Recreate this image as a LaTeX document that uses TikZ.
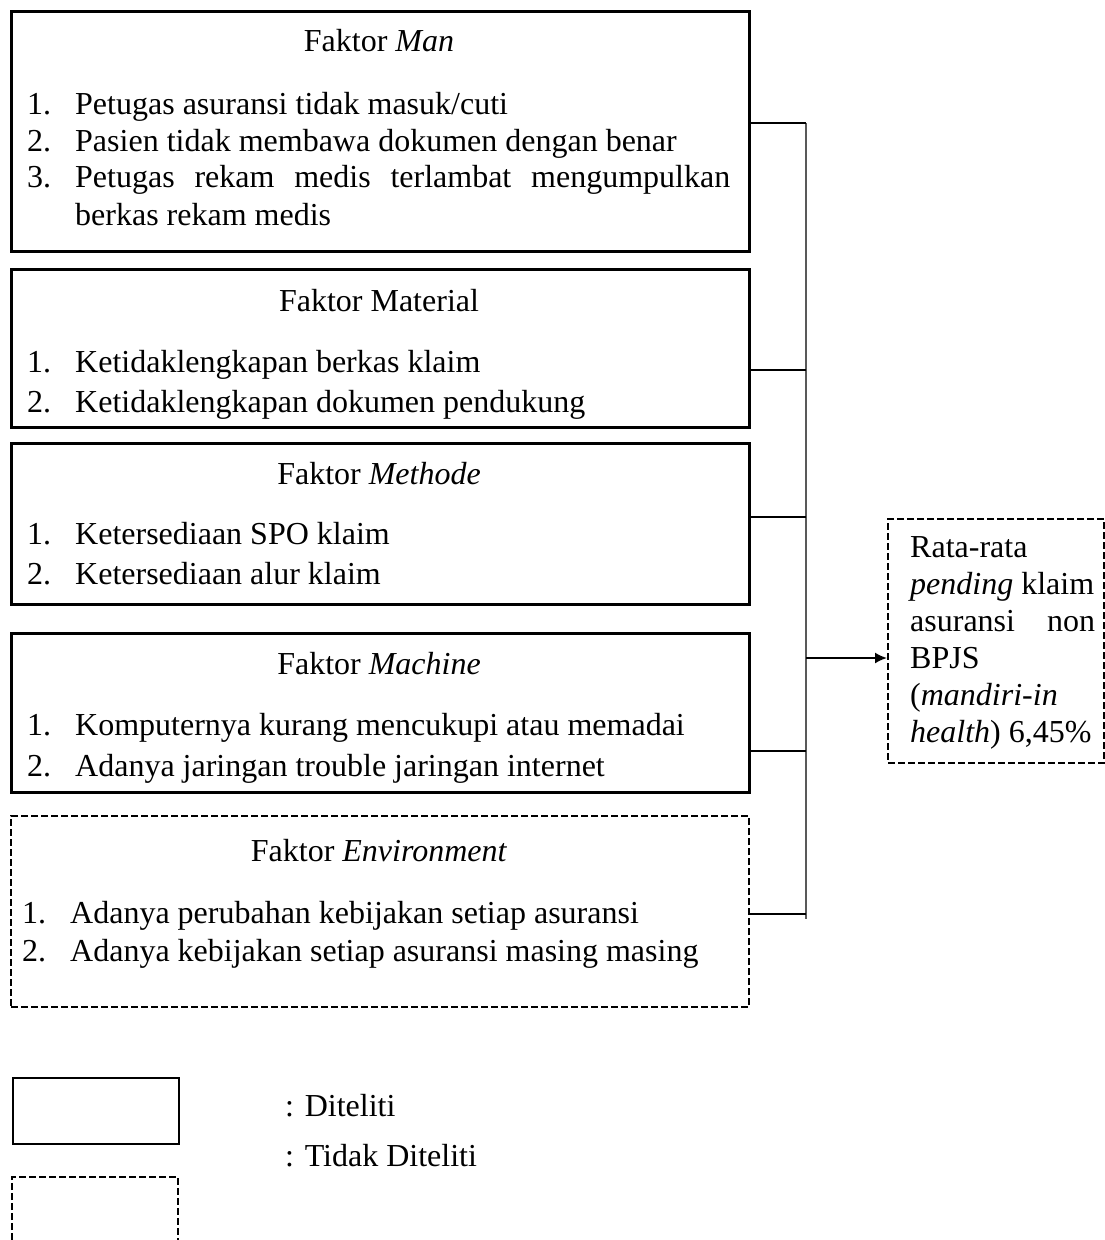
\documentclass[tikz,border=0pt]{standalone}
\usepackage{fontspec}
\setmainfont{Liberation Serif}
\usetikzlibrary{arrows.meta,positioning}

\tikzset{
  kotak/.style={draw, line width=2.6pt, anchor=north west, inner sep=0pt},
  putus/.style={line width=2.2pt, dash pattern=on 7pt off 3pt},
  teks/.style={anchor=base west, inner sep=0pt, font=\fontsize{32}{37}\selectfont},
  judul/.style={teks, anchor=base},
  garis/.style={line width=1.8pt},
}
\newcommand{\butir}[2]{\makebox[48pt][l]{#1}#2}

\begin{document}
\begin{tikzpicture}[x=1pt,y=-1pt]
\useasboundingbox (0,0) rectangle (1105,1240);

% kotak faktor
\node[kotak, minimum width=738, minimum height=240] (man) at (10,10) {};
\node[judul] (judulman) at (379,51) {Faktor \textit{Man}};
\node[teks] (man1) at (27,114) {\butir{1.}{Petugas asuransi tidak masuk/cuti}};
\node[teks] (man2) at (27,151) {\butir{2.}{Pasien tidak membawa dokumen dengan benar}};
\node[teks] (man3) at (27,187) {\butir{3.}{\hbox to 655pt{Petugas\hfill rekam\hfill medis\hfill terlambat\hfill mengumpulkan}}};
\node[teks] (man4) at (75,225) {berkas rekam medis};

\node[kotak, minimum width=738, minimum height=158] (material) at (10,268) {};
\node[judul] (judulmaterial) at (379,311) {Faktor Material};
\node[teks] (material1) at (27,372) {\butir{1.}{Ketidaklengkapan berkas klaim}};
\node[teks] (material2) at (27,412) {\butir{2.}{Ketidaklengkapan dokumen pendukung}};

\node[kotak, minimum width=738, minimum height=161] (metode) at (10,442) {};
\node[judul] (judulmetode) at (379,484) {Faktor \textit{Methode}};
\node[teks] (metode1) at (27,544) {\butir{1.}{Ketersediaan SPO klaim}};
\node[teks] (metode2) at (27,584) {\butir{2.}{Ketersediaan alur klaim}};

\node[kotak, minimum width=738, minimum height=159] (mesin) at (10,632) {};
\node[judul] (judulmesin) at (379,674) {Faktor \textit{Machine}};
\node[teks] (mesin1) at (27,735) {\butir{1.}{Komputernya kurang mencukupi atau memadai}};
\node[teks] (mesin2) at (27,776) {\butir{2.}{Adanya jaringan trouble jaringan internet}};

\node[kotak, putus, minimum width=738, minimum height=191] (lingkungan) at (10,815) {};
\node[judul] (judullingkungan) at (379,861) {Faktor \textit{Environment}};
\node[teks] (lingkungan1) at (22,923) {\butir{1.}{Adanya perubahan kebijakan setiap asuransi}};
\node[teks] (lingkungan2) at (22,961) {\butir{2.}{Adanya kebijakan setiap asuransi masing masing}};

% kotak hasil
\node[kotak, putus, minimum width=216, minimum height=244] (hasil) at (887,518) {};
\node[teks] (hasil1) at (910,557) {Rata-rata};
\node[teks] (hasil2) at (910,594) {\textit{pending} klaim};
\node[teks] (hasil3) at (910,631) {\hbox to 185pt{asuransi\hfill non}};
\node[teks] (hasil4) at (910,668) {BPJS};
\node[teks] (hasil5) at (910,705) {(\textit{mandiri-in}};
\node[teks] (hasil6) at (910,742) {\textit{health}) 6,45\%};

% garis penghubung
\coordinate (c1) at (806,123);
\coordinate (c2) at (806,370);
\coordinate (c3) at (806,517);
\coordinate (c4) at (806,751);
\coordinate (c5) at (806,914);
\coordinate (bawah) at (806,919);
\coordinate (c0) at (806,658);
\draw[line width=1.5pt, black!65] (c1) -- (bawah);
\draw[garis] (man.east |- c1) -- (c1);
\draw[garis] (material.east |- c2) -- (c2);
\draw[garis] (metode.east |- c3) -- (c3);
\draw[garis] (mesin.east |- c4) -- (c4);
\draw[garis] (lingkungan.east |- c5) -- (c5);
\draw[garis, -{Latex[length=12pt,width=11pt]}] (c0) -- (hasil.west |- c0);

% keterangan
\node[kotak, line width=2.2pt, minimum width=166, minimum height=66] (diteliti) at (12,1077) {};
\draw[putus] (12,1240) -- (12,1177) -- (178,1177) -- (178,1240);
\node[teks] (ketditeliti) at (285,1116) {: Diteliti};
\node[teks] (kettidak) at (285,1166) {: Tidak Diteliti};

\end{tikzpicture}
\end{document}
